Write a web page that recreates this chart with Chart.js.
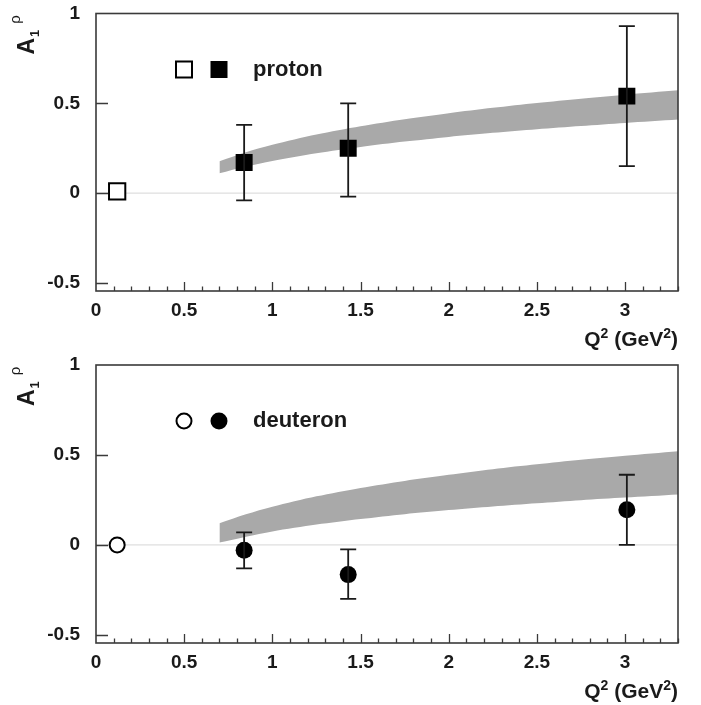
<!DOCTYPE html>
<html>
<head>
<meta charset="utf-8">
<script src="https://cdn.jsdelivr.net/npm/chart.js@4/dist/chart.umd.min.js"></script>
<style>
html,body{margin:0;padding:0;background:#fff;}
.wrap{position:absolute;left:0;width:701px;height:352px;}
</style>
</head>
<body>
<div class="wrap" style="top:0"><canvas id="c1" width="701" height="352"></canvas></div>
<div class="wrap" style="top:352px"><canvas id="c2" width="701" height="352"></canvas></div>
<script>
// ---- data ----
const xTickValues = [0, 0.5, 1, 1.5, 2, 2.5, 3];
const yTickValues = [-0.5, 0, 0.5, 1];

const bandX = [0.7, 0.85, 1.0, 1.25, 1.5, 1.75, 2.0, 2.25, 2.5, 2.75, 3.0, 3.3];
const protonBandHi = [0.178, 0.228, 0.269, 0.326, 0.372, 0.411, 0.445, 0.475, 0.502, 0.526, 0.548, 0.572];
const protonBandLo = [0.110, 0.148, 0.179, 0.222, 0.257, 0.287, 0.313, 0.336, 0.356, 0.374, 0.391, 0.410];
const deuteronBandHi = [0.120, 0.170, 0.212, 0.270, 0.317, 0.356, 0.390, 0.421, 0.448, 0.473, 0.495, 0.520];
const deuteronBandLo = [0.013, 0.046, 0.075, 0.113, 0.144, 0.171, 0.194, 0.214, 0.232, 0.249, 0.263, 0.280];

const protonOpenX = [0.12];
const protonOpenY = [0.01];
const protonX = [0.84, 1.43, 3.01];
const protonY = [0.17, 0.25, 0.54];
const protonErrLo = [-0.04, -0.02, 0.15];
const protonErrHi = [0.38, 0.50, 0.93];

const deuteronOpenX = [0.12];
const deuteronOpenY = [0.0];
const deuteronX = [0.84, 1.43, 3.01];
const deuteronY = [-0.03, -0.165, 0.195];
const deuteronErrLo = [-0.13, -0.30, 0.0];
const deuteronErrHi = [0.07, -0.025, 0.39];

const FONT = '"Liberation Sans", Arial, Helvetica, sans-serif';
const INK = '#1a1a1a';

function pts(xs, ys) { return xs.map((x, i) => ({x: x, y: ys[i]})); }

function makeChart(canvasId, cfg) {
  const framePlugin = {
    id: 'frame',
    beforeDatasetsDraw(chart) {
      const {ctx, chartArea: a, scales: {y}} = chart;
      ctx.save();
      ctx.strokeStyle = '#d6d6d6';
      ctx.lineWidth = 1;
      const y0 = y.getPixelForValue(0);
      ctx.beginPath(); ctx.moveTo(a.left, y0); ctx.lineTo(a.right, y0); ctx.stroke();
      ctx.restore();
    },
    afterDatasetsDraw(chart) {
      const {ctx, scales: {x, y}} = chart;
      ctx.save();
      ctx.strokeStyle = INK;
      ctx.lineWidth = 1.8;
      cfg.xs.forEach((xv, i) => {
        const px = x.getPixelForValue(xv);
        const lo = y.getPixelForValue(cfg.errLo[i]);
        const hi = y.getPixelForValue(cfg.errHi[i]);
        ctx.beginPath();
        ctx.moveTo(px, lo); ctx.lineTo(px, hi);
        ctx.moveTo(px - 8, lo); ctx.lineTo(px + 8, lo);
        ctx.moveTo(px - 8, hi); ctx.lineTo(px + 8, hi);
        ctx.stroke();
      });
      ctx.restore();
    },
    afterDraw(chart) {
      const {ctx, chartArea: a, scales: {x, y}} = chart;
      ctx.save();
      ctx.strokeStyle = '#3a3a3a';
      ctx.lineWidth = 1.6;
      ctx.strokeRect(a.left, a.top, a.right - a.left, a.bottom - a.top);
      ctx.lineWidth = 1.3;
      ctx.beginPath();
      for (let k = 1; k <= 33; k++) {
        const v = k / 10;
        const px = Math.round(x.getPixelForValue(v)) + 0.5;
        const len = (k % 5 === 0) ? 9 : 4.5;
        ctx.moveTo(px, a.bottom); ctx.lineTo(px, a.bottom - len);
      }
      [-0.5, 0, 0.5].forEach(v => {
        const py = Math.round(y.getPixelForValue(v)) + 0.5;
        ctx.moveTo(a.left, py); ctx.lineTo(a.left + 12, py);
      });
      ctx.stroke();

      // legend
      const ly = a.top + 56;
      const lx1 = a.left + 88, lx2 = a.left + 123;
      ctx.lineWidth = 2;
      ctx.strokeStyle = '#000';
      if (cfg.shape === 'rect') {
        ctx.fillStyle = '#fff';
        ctx.fillRect(lx1 - 8, ly - 8, 16, 16);
        ctx.strokeRect(lx1 - 8, ly - 8, 16, 16);
        ctx.fillStyle = '#000';
        ctx.fillRect(lx2 - 8.5, ly - 8.5, 17, 17);
      } else {
        ctx.fillStyle = '#fff';
        ctx.beginPath(); ctx.arc(lx1, ly, 7.5, 0, Math.PI * 2); ctx.fill(); ctx.stroke();
        ctx.fillStyle = '#000';
        ctx.beginPath(); ctx.arc(lx2, ly, 8.5, 0, Math.PI * 2); ctx.fill();
      }
      ctx.fillStyle = INK;
      ctx.font = 'bold 22px ' + FONT;
      ctx.textAlign = 'left';
      ctx.textBaseline = 'middle';
      ctx.fillText(cfg.name, a.left + 157, ly);

      // x axis title
      ctx.textBaseline = 'alphabetic';
      const big = 'bold 21px ' + FONT, small = 'bold 14px ' + FONT;
      const parts = [['Q', big, 0], ['2', small, -8], [' (GeV', big, 0], ['2', small, -8], [')', big, 0]];
      let total = 0;
      parts.forEach(p => { ctx.font = p[1]; total += ctx.measureText(p[0]).width; });
      let tx = a.right - total;
      const ty = a.bottom + 55;
      parts.forEach(p => { ctx.font = p[1]; ctx.fillText(p[0], tx, ty + p[2]); tx += ctx.measureText(p[0]).width; });

      // y axis title (rotated)
      ctx.translate(34, a.top + 41);
      ctx.rotate(-Math.PI / 2);
      ctx.font = 'bold 23px ' + FONT;
      ctx.fillText('A', 0, 0);
      let w = ctx.measureText('A').width;
      ctx.font = 'bold 13px ' + FONT;
      ctx.fillText('1', w + 1, 5);
      w += ctx.measureText('1').width + 7;
      ctx.font = '15px ' + FONT;
      ctx.fillText('\u03c1', w, -14);
      ctx.restore();
    }
  };

  return new Chart(document.getElementById(canvasId), {
    type: 'scatter',
    data: {
      datasets: [
        { type: 'line', data: pts(bandX, cfg.bandHi), borderWidth: 0, pointRadius: 0,
          backgroundColor: '#a9a9a9', fill: '+1', tension: 0.3, order: 3 },
        { type: 'line', data: pts(bandX, cfg.bandLo), borderWidth: 0, pointRadius: 0,
          backgroundColor: '#a9a9a9', fill: false, tension: 0.3, order: 3 },
        { data: pts(cfg.openX, cfg.openY), pointStyle: cfg.shape,
          pointRadius: cfg.shape === 'rect' ? 11.5 : 7.5, pointBackgroundColor: '#fff',
          pointBorderColor: '#000', pointBorderWidth: 2, order: 1 },
        { data: pts(cfg.xs, cfg.ys), pointStyle: cfg.shape,
          pointRadius: cfg.shape === 'rect' ? 12 : 8.5, pointBackgroundColor: '#000',
          pointBorderColor: '#000', pointBorderWidth: 0, order: 0 }
      ]
    },
    options: {
      responsive: false,
      animation: false,
      events: [],
      layout: { padding: { left: 0, top: 13, right: 23, bottom: 0 } },
      plugins: { legend: { display: false }, tooltip: { enabled: false } },
      scales: {
        x: {
          type: 'linear', min: 0, max: 3.3,
          afterBuildTicks: s => { s.ticks = xTickValues.map(v => ({value: v})); },
          afterFit: s => { s.height = 61; s.paddingLeft = 0; s.paddingRight = 0; },
          grid: { display: false, drawTicks: false },
          border: { display: false },
          ticks: { color: INK, padding: 8, font: { family: FONT, weight: 'bold', size: 19 },
                   callback: v => String(v), maxRotation: 0 }
        },
        y: {
          type: 'linear', min: -0.545, max: 1.0,
          afterBuildTicks: s => { s.ticks = yTickValues.map(v => ({value: v})); },
          afterFit: s => { s.width = 96; s.paddingTop = 0; s.paddingBottom = 0; },
          grid: { display: false, drawTicks: false },
          border: { display: false },
          ticks: { color: INK, padding: 16, font: { family: FONT, weight: 'bold', size: 19 },
                   callback: v => String(v) }
        }
      }
    },
    plugins: [framePlugin]
  });
}

makeChart('c1', { name: 'proton', shape: 'rect', bandHi: protonBandHi, bandLo: protonBandLo,
  openX: protonOpenX, openY: protonOpenY, xs: protonX, ys: protonY, errLo: protonErrLo, errHi: protonErrHi });
makeChart('c2', { name: 'deuteron', shape: 'circle', bandHi: deuteronBandHi, bandLo: deuteronBandLo,
  openX: deuteronOpenX, openY: deuteronOpenY, xs: deuteronX, ys: deuteronY, errLo: deuteronErrLo, errHi: deuteronErrHi });
</script>
</body>
</html>
